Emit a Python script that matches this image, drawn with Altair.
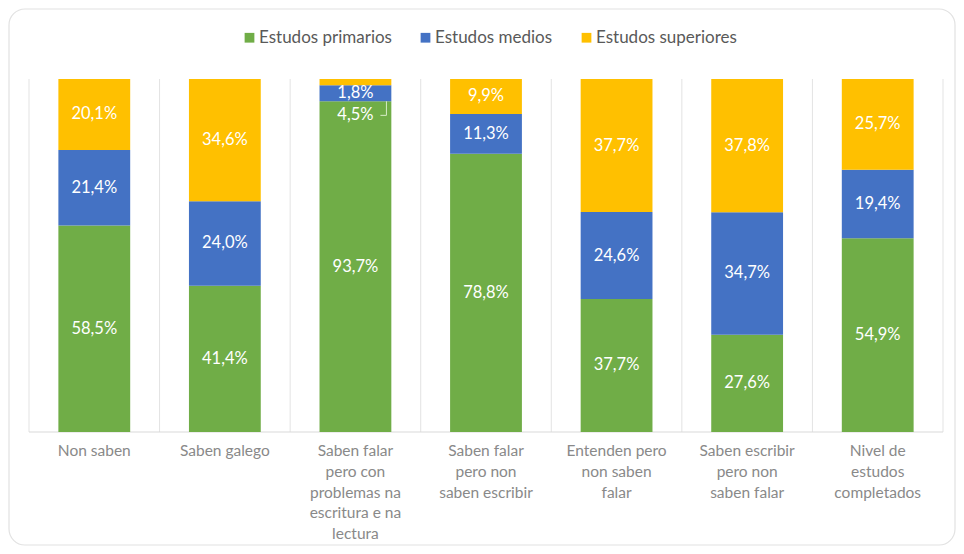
import altair as alt
import pandas as pd

categories = [
    "Non saben",
    "Saben galego",
    "Saben falar\npero con\nproblemas na\nescritura e na\nlectura",
    "Saben falar\npero non\nsaben escribir",
    "Entenden pero\nnon saben\nfalar",
    "Saben escribir\npero non\nsaben falar",
    "Nivel de\nestudos\ncompletados",
]
series = ["Estudos primarios", "Estudos medios", "Estudos superiores"]
colors = ["#70AD47", "#4472C4", "#FFC000"]

primarios = [58.5, 41.4, 93.7, 78.8, 37.7, 27.6, 54.9]
medios = [21.4, 24.0, 4.5, 11.3, 24.6, 34.7, 19.4]
superiores = [20.1, 34.6, 1.8, 9.9, 37.7, 37.8, 25.7]

values = [primarios, medios, superiores]

rows = []
lab_rows = []
lead_rows = []
for ci, cat in enumerate(categories):
    vals = [v[ci] for v in values]
    tot = sum(vals)
    cum = 0.0
    bounds = []
    for si, s in enumerate(series):
        lo = cum / tot
        cum += vals[si]
        hi = cum / tot
        bounds.append((lo, hi))
        rows.append({"cat": cat, "serie": s, "value": vals[si], "ord": si})
    mids = [(lo + hi) / 2 for lo, hi in bounds]
    labels = [f"{v:.1f}".replace(".", ",") + "%" for v in vals]
    # tiny top segment: labels moved (as in the original)
    if vals[2] / tot < 0.03:
        mids[2] = mids[1]
        mids[1] = bounds[1][0] - 0.04
        lead_rows.append({"cat": cat, "y": mids[1], "y2": bounds[1][0]})
    for si in range(3):
        lab_rows.append({"cat": cat, "ypos": mids[si], "label": labels[si]})

df = pd.DataFrame(rows)
labdf = pd.DataFrame(lab_rows)
leaddf = pd.DataFrame(lead_rows)
catdf = pd.DataFrame({"cat": categories})

W, H = 914, 353
FONT = "Lato"
GRID = "#e3e3e3"

xscale = alt.Scale(domain=categories, paddingInner=0, paddingOuter=0)
yscale = alt.Scale(domain=[0, 1], nice=False)

border = alt.Chart(pd.DataFrame({"a": [0]})).mark_rect(
    fill="white", stroke="#e2e2e2", strokeWidth=1.2, cornerRadius=16
).encode(
    x=alt.value(-20), x2=alt.value(W + 12), y=alt.value(-70), y2=alt.value(H + 113)
)

grid = alt.Chart(catdf).mark_rule(color=GRID, strokeWidth=1).encode(
    x=alt.X("cat:N", scale=xscale, bandPosition=0, axis=None),
    y=alt.value(0),
    y2=alt.value(H),
)

edge = alt.Chart(pd.DataFrame({"a": [0]})).mark_rule(color=GRID).encode(
    x=alt.value(W), y=alt.value(0), y2=alt.value(H)
)

domain = alt.Chart(pd.DataFrame({"a": [0]})).mark_rule(color="#d9d9d9").encode(
    x=alt.value(0), x2=alt.value(W), y=alt.value(H)
)

bars = alt.Chart(df).mark_bar(width=alt.RelativeBandSize(0.55)).encode(
    x=alt.X("cat:N", scale=xscale, axis=None),
    y=alt.Y("value:Q", stack="normalize", scale=yscale, axis=None),
    color=alt.Color(
        "serie:N",
        scale=alt.Scale(domain=series, range=colors),
        legend=alt.Legend(
            title=None,
            orient="none",
            direction="horizontal",
            legendX=212,
            legendY=-50,
            symbolType="square",
            symbolSize=95,
            symbolStrokeWidth=0,
            labelFont=FONT,
            labelFontSize=17,
            labelColor="#595959",
            columnPadding=25,
            symbolOffset=0,
            labelOffset=1,
        ),
    ),
    order=alt.Order("ord:Q"),
)

text = alt.Chart(labdf).mark_text(
    color="white", font=FONT, fontSize=16.5, baseline="middle", align="center"
).encode(
    x=alt.X("cat:N", scale=xscale, axis=None),
    y=alt.Y("ypos:Q", scale=yscale),
    text="label:N",
)

catlabels = alt.Chart(catdf).mark_text(
    font=FONT,
    fontSize=15.5,
    color="#898989",
    baseline="top",
    align="center",
    lineBreak="\n",
    lineHeight=20.8,
).encode(
    x=alt.X("cat:N", scale=xscale, axis=None),
    y=alt.value(H + 12),
    text="cat:N",
)

lead_v = alt.Chart(leaddf).mark_rule(color="#d8ecc8", strokeWidth=1, xOffset=31).encode(
    x=alt.X("cat:N", scale=xscale, bandPosition=0.5, axis=None),
    y=alt.Y("y:Q", scale=yscale),
    y2="y2:Q",
)
lead_h = alt.Chart(leaddf).mark_rule(
    color="#d8ecc8", strokeWidth=1, xOffset=25, x2Offset=31
).encode(
    x=alt.X("cat:N", scale=xscale, bandPosition=0.5, axis=None),
    x2="cat:N",
    y=alt.Y("y:Q", scale=yscale),
)

chart = alt.layer(
    border, grid, edge, domain, bars, text, catlabels, lead_v, lead_h
).properties(
    width=W,
    height=H,
    autosize=alt.AutoSizeParams(type="none"),
    padding={"left": 21, "top": 71, "right": 13, "bottom": 114},
).configure_view(stroke=None).configure(background="white")

chart.save("out.html", embed_options={"renderer": "svg", "actions": False})
